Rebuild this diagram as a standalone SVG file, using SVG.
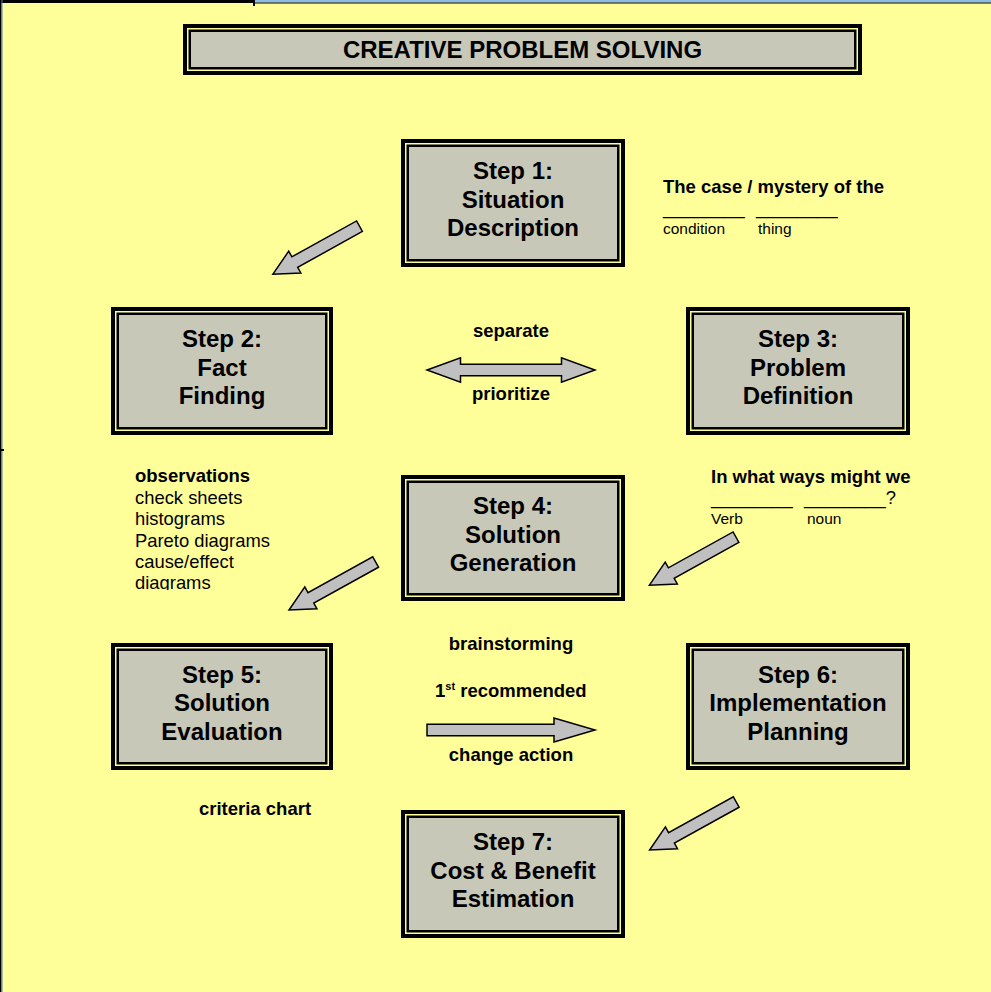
<svg xmlns="http://www.w3.org/2000/svg" width="991" height="992" viewBox="0 0 991 992">
<defs>
<style>
.outer{fill:#FFFF99;stroke:#000;stroke-width:4}
.inner{fill:#C8C8B9;stroke:#000;stroke-width:2.5}
.st{font-family:"Liberation Sans",Arial,sans-serif;font-weight:bold;font-size:24px;fill:#000;text-anchor:middle}
.b{font-family:"Liberation Sans",Arial,sans-serif;font-weight:bold;font-size:18.5px;fill:#000}
.r{font-family:"Liberation Sans",Arial,sans-serif;font-size:18.4px;fill:#000}
.s{font-family:"Liberation Sans",Arial,sans-serif;font-size:15.5px;fill:#000}
.c{text-anchor:middle}
.arr{fill:#C0C0C0;stroke:#000;stroke-width:1.5;stroke-linejoin:miter}
</style>
<path id="diag" d="M0,-6 L74,-6 L74,-12.5 L99,0 L74,12.5 L74,6 L0,6 Z"/>
<clipPath id="listclip"><rect x="120" y="455" width="200" height="135"/></clipPath>
</defs>
<rect x="0" y="0" width="991" height="992" fill="#FFFF99"/>
<!-- frame -->
<rect x="254" y="0" width="737" height="2.5" fill="#8DBDEA"/>
<rect x="254" y="2.5" width="737" height="1" fill="#000"/>
<rect x="0" y="0" width="254" height="3" fill="#000"/>
<rect x="253" y="0" width="2" height="6" fill="#000"/>
<rect x="0" y="0" width="1.5" height="992" fill="#000"/>
<rect x="1.5" y="0" width="1" height="992" fill="#5A7FB0"/>
<rect x="0" y="449" width="4" height="2" fill="#000"/>

<g id="title">
<rect class="outer" x="185" y="26" width="675" height="47"/>
<rect class="inner" x="189.75" y="30.75" width="665.5" height="37.5"/>
<text class="st" x="522.5" y="58">CREATIVE PROBLEM SOLVING</text>
</g>

<g id="step1">
<rect class="outer" x="403" y="141" width="220" height="124"/>
<rect class="inner" x="407.75" y="145.75" width="210.5" height="114.5"/>
<text class="st" x="513" y="179">Step 1:</text>
<text class="st" x="513" y="207.5">Situation</text>
<text class="st" x="513" y="236">Description</text>
</g>

<g id="step2">
<rect class="outer" x="113" y="309" width="218" height="124"/>
<rect class="inner" x="117.75" y="313.75" width="208.5" height="114.5"/>
<text class="st" x="222" y="347">Step 2:</text>
<text class="st" x="222" y="375.5">Fact</text>
<text class="st" x="222" y="404">Finding</text>
</g>

<g id="step3">
<rect class="outer" x="688" y="309" width="220" height="124"/>
<rect class="inner" x="692.75" y="313.75" width="210.5" height="114.5"/>
<text class="st" x="798" y="347">Step 3:</text>
<text class="st" x="798" y="375.5">Problem</text>
<text class="st" x="798" y="404">Definition</text>
</g>

<g id="step4">
<rect class="outer" x="403" y="477" width="220" height="122"/>
<rect class="inner" x="407.75" y="481.75" width="210.5" height="112.5"/>
<text class="st" x="513" y="514">Step 4:</text>
<text class="st" x="513" y="542.5">Solution</text>
<text class="st" x="513" y="571">Generation</text>
</g>

<g id="step5">
<rect class="outer" x="113" y="645" width="218" height="123"/>
<rect class="inner" x="117.75" y="649.75" width="208.5" height="113.5"/>
<text class="st" x="222" y="682.5">Step 5:</text>
<text class="st" x="222" y="711">Solution</text>
<text class="st" x="222" y="739.5">Evaluation</text>
</g>

<g id="step6">
<rect class="outer" x="688" y="645" width="220" height="123"/>
<rect class="inner" x="692.75" y="649.75" width="210.5" height="113.5"/>
<text class="st" x="798" y="682.5">Step 6:</text>
<text class="st" x="798" y="711">Implementation</text>
<text class="st" x="798" y="739.5">Planning</text>
</g>

<g id="step7">
<rect class="outer" x="403" y="812" width="220" height="124"/>
<rect class="inner" x="407.75" y="816.75" width="210.5" height="114.5"/>
<text class="st" x="513" y="850">Step 7:</text>
<text class="st" x="513" y="878.5">Cost &amp; Benefit</text>
<text class="st" x="513" y="907">Estimation</text>
</g>

<g id="connectors">
<use href="#diag" class="arr" transform="translate(359.5,226.2) rotate(151)"/>
<use href="#diag" class="arr" transform="translate(736,537.2) rotate(151)"/>
<use href="#diag" class="arr" transform="translate(375.6,562) rotate(151)"/>
<use href="#diag" class="arr" transform="translate(736.2,802) rotate(151)"/>
<path class="arr" d="M427,370 L460.5,357.7 L460.5,364.3 L561.5,364.3 L561.5,357.7 L595,370 L561.5,382.3 L561.5,375.7 L460.5,375.7 L460.5,382.3 Z"/>
<path class="arr" d="M427,724.3 L554,724.3 L554,718 L595,730 L554,742 L554,735.7 L427,735.7 Z"/>
</g>

<g id="labels">
<text class="b" x="663" y="193">The case / mystery of the</text>
<text class="r" x="663" y="214">________</text>
<text class="r" x="756" y="214">________</text>
<text class="s" x="663" y="234">condition</text>
<text class="s" x="758" y="234">thing</text>

<text class="b c" x="511" y="337">separate</text>
<text class="b c" x="511" y="400">prioritize</text>

<g clip-path="url(#listclip)">
<text class="b" x="135" y="482">observations</text>
<text class="r" x="135" y="503.5">check sheets</text>
<text class="r" x="135" y="525">histograms</text>
<text class="r" x="135" y="546.5">Pareto diagrams</text>
<text class="r" x="135" y="567.5">cause/effect</text>
<text class="r" x="135" y="589">diagrams</text>
</g>

<text class="b" x="711" y="483">In what ways might we</text>
<text class="r" x="711" y="503.5">________</text>
<text class="r" x="804" y="503.5">________?</text>
<text class="s" x="711" y="523.5">Verb</text>
<text class="s" x="807" y="523.5">noun</text>

<text class="b c" x="511" y="650">brainstorming</text>
<text class="b" x="435" y="697">1<tspan font-size="11px" dy="-7">st</tspan><tspan dy="7"> recommended</tspan></text>
<text class="b c" x="511" y="761">change action</text>
<text class="b c" x="255" y="815">criteria chart</text>
</g>
</svg>
